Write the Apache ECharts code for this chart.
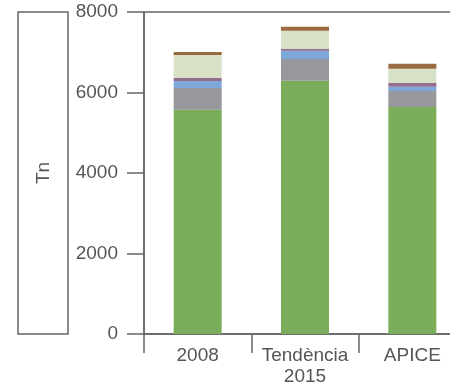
<!DOCTYPE html>
<html>
<head>
<meta charset="utf-8">
<script src="https://cdn.jsdelivr.net/npm/echarts@6/dist/echarts.min.js"></script>
<style>
  html, body { margin: 0; padding: 0; background: #fff; }
  #chart { width: 450px; height: 382px; }
</style>
</head>
<body>
<div id="chart"></div>
<script>
const categories = ['2008', 'Tendència\n2015', 'APICE'];
const greenVals = [5570, 6290, 5640];
const grayVals = [540, 545, 400];
const blueVals = [175, 200, 100];
const purpleVals = [75, 50, 100];
const paleVals = [572, 450, 350];
const brownVals = [75, 100, 125];
const yTicks = [0, 2000, 4000, 6000, 8000];

const layers = [
  { data: greenVals, color: '#7aad59' },
  { data: grayVals, color: '#97989b' },
  { data: blueVals, color: '#7ea8da' },
  { data: purpleVals, color: '#936e8d' },
  { data: paleVals, color: '#d6e1c8' },
  { data: brownVals, color: '#9a6b40' },
];

const textColor = '#555';
const lineColor = '#666';
const font = 'Liberation Sans, Arial, sans-serif';

const chart = echarts.init(document.getElementById('chart'));
chart.setOption({
  animation: false,
  grid: {
    left: 144, top: 12, width: 322, height: 322,
    outerBoundsMode: 'none',
    containLabel: false,
    show: true, borderColor: lineColor, borderWidth: 1.5, backgroundColor: 'transparent',
  },
  graphic: [{
    type: 'rect',
    shape: { x: 18, y: 12, width: 50, height: 322 },
    style: { fill: 'none', stroke: lineColor, lineWidth: 1.5 },
  }],
  xAxis: {
    type: 'category',
    data: categories,
    axisLine: { lineStyle: { color: lineColor, width: 1.5 } },
    axisTick: { show: true, length: 19, lineStyle: { color: lineColor, width: 1.5 } },
    axisLabel: { interval: 0, color: textColor, fontSize: 19, fontFamily: font, margin: 11, lineHeight: 21 },
  },
  yAxis: {
    type: 'value',
    min: 0, max: yTicks[yTicks.length - 1], interval: 2000,
    name: 'Tn',
    nameLocation: 'middle',
    nameRotate: 90,
    nameGap: 91,
    nameTextStyle: { color: textColor, fontSize: 19, fontFamily: font },
    axisLine: { show: true, lineStyle: { color: lineColor, width: 1.5 } },
    axisTick: { show: true, length: 17, lineStyle: { color: lineColor, width: 1.5 } },
    axisLabel: { color: textColor, fontSize: 19, fontFamily: font, margin: 26, formatter: (v) => String(v) },
    splitLine: { show: false },
  },
  series: layers.map((l) => ({
    type: 'bar',
    stack: 'total',
    data: l.data,
    barWidth: 48,
    itemStyle: { color: l.color },
  })),
});
</script>
</body>
</html>
